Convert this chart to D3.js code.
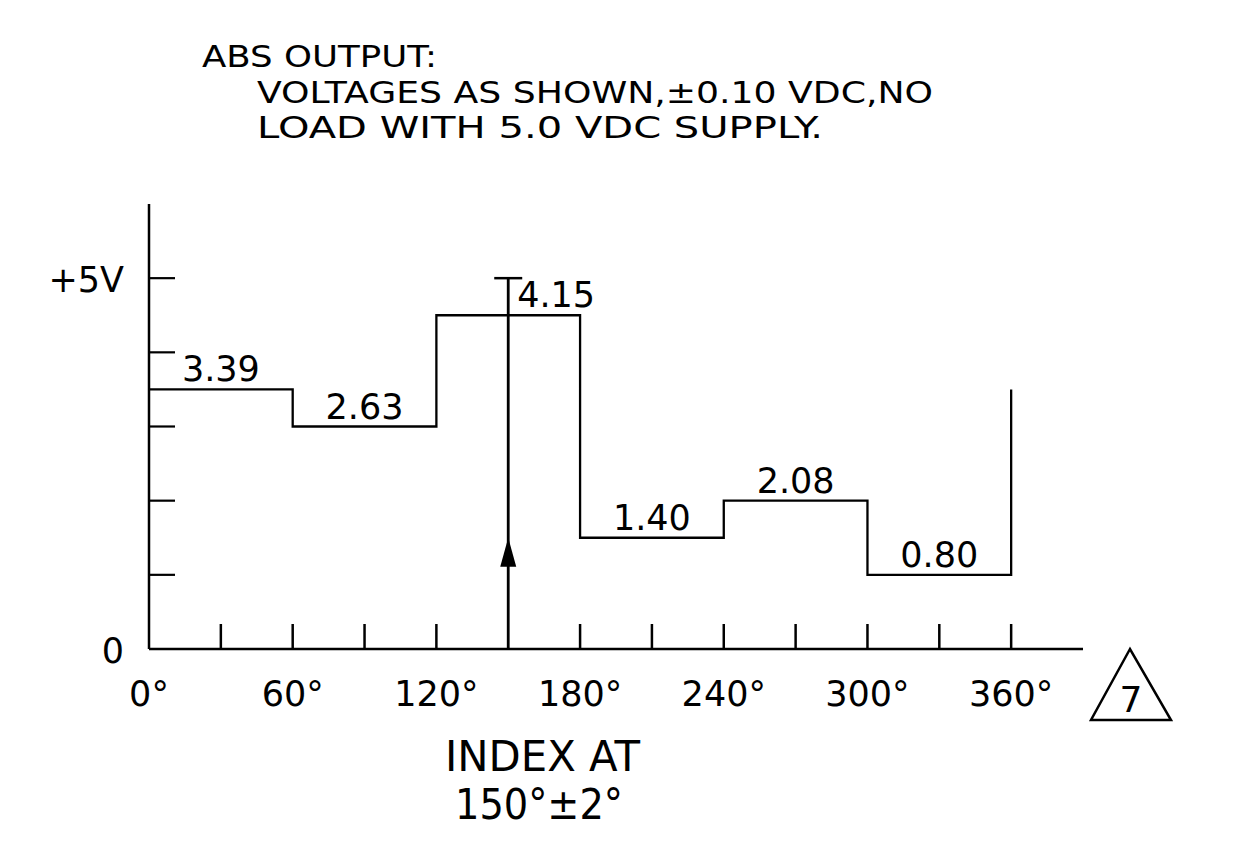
<!DOCTYPE html>
<html>
<head>
<meta charset="utf-8">
<script src="https://cdn.jsdelivr.net/npm/d3@7"></script>
<style>
  html, body { margin: 0; padding: 0; background: #fff; }
  svg { display: block; }
  text { font-family: "DejaVu Sans", sans-serif; fill: #000; }
</style>
</head>
<body>
<svg id="chart" width="1240" height="845"></svg>
<script>
// ---- data ----
const segmentStarts = [0, 60, 120, 180, 240, 300];   // degrees
const segmentEnd = 360;
const drawnLevels = [3.5, 3.0, 4.5, 1.5, 2.0, 1.0];  // level drawn in the figure (V)
const levelLabels = ["3.39", "2.63", "4.15", "1.40", "2.08", "0.80"];
const labelAngles = [30, 90, 170, 210, 270, 330];
const xTickLabels = ["0°", "60°", "120°", "180°", "240°", "300°", "360°"];
const xTickLabelValues = [0, 60, 120, 180, 240, 300, 360];
const xMinorTicks = [30, 60, 90, 120, 180, 210, 240, 270, 300, 330, 360];
const yTicks = [1, 2, 3, 4, 5];
const indexAngle = 150;
const titleLines = ["ABS OUTPUT:", "VOLTAGES AS SHOWN,±0.10 VDC,NO", "LOAD WITH 5.0 VDC SUPPLY."];
const indexLines = ["INDEX AT", "150°±2°"];

// ---- layout ----
const svg = d3.select("#chart");
const x = d3.scaleLinear().domain([0, 390]).range([149, 1083]);
const y = d3.scaleLinear().domain([0, 6]).range([649, 204]);

// title
const titleX = [202, 257, 257];
const titleY = [67, 102.5, 138];
const titleW = [235, 676, 566];
titleLines.forEach((t, i) => {
  svg.append("text").attr("x", titleX[i]).attr("y", titleY[i])
    .attr("font-size", 30).attr("textLength", titleW[i])
    .attr("lengthAdjust", "spacingAndGlyphs").text(t);
});

// axes
svg.append("line").attr("x1", x(0)).attr("x2", x(0)).attr("y1", y(0)).attr("y2", y(6))
  .attr("stroke", "#000").attr("stroke-width", 2.5);
svg.append("line").attr("x1", x(0)).attr("x2", x(390)).attr("y1", y(0)).attr("y2", y(0))
  .attr("stroke", "#000").attr("stroke-width", 2.5);

// y ticks
svg.selectAll(".ytick").data(yTicks).enter().append("line")
  .attr("x1", x(0)).attr("x2", x(0) + 26)
  .attr("y1", d => y(d)).attr("y2", d => y(d))
  .attr("stroke", "#000").attr("stroke-width", 2.2);

// x ticks (upward)
svg.selectAll(".xtick").data(xMinorTicks).enter().append("line")
  .attr("x1", d => x(d)).attr("x2", d => x(d))
  .attr("y1", y(0)).attr("y2", y(0) - 25)
  .attr("stroke", "#000").attr("stroke-width", 2.5);

// x tick labels
svg.selectAll(".xlab").data(xTickLabelValues).enter().append("text")
  .attr("x", d => x(d)).attr("y", 706)
  .attr("text-anchor", "middle").attr("font-size", 35)
  .text((d, i) => xTickLabels[i]);

// y labels
svg.append("text").attr("x", 124).attr("y", 663).attr("text-anchor", "end")
  .attr("font-size", 35).text("0");
svg.append("text").attr("x", 124).attr("y", 292).attr("text-anchor", "end")
  .attr("font-size", 35).text("+5V");

// step line
const pts = segmentStarts.map((s, i) => [s, drawnLevels[i]]);
pts.push([segmentEnd, drawnLevels[drawnLevels.length - 1]]);
pts.push([segmentEnd, drawnLevels[0]]);
const stepLine = d3.line().x(d => x(d[0])).y(d => y(d[1])).curve(d3.curveStepAfter);
svg.append("path").attr("d", stepLine(pts))
  .attr("fill", "none").attr("stroke", "#000").attr("stroke-width", 2.3);

// level labels
svg.selectAll(".lvl").data(levelLabels).enter().append("text")
  .attr("x", (d, i) => x(labelAngles[i]))
  .attr("y", (d, i) => y(drawnLevels[i]) - 8)
  .attr("text-anchor", "middle").attr("font-size", 35)
  .text(d => d);

// index arrow
const ax = x(indexAngle);
svg.append("line").attr("x1", ax).attr("x2", ax).attr("y1", y(0)).attr("y2", y(5))
  .attr("stroke", "#000").attr("stroke-width", 2.8);
svg.append("line").attr("x1", ax - 14).attr("x2", ax + 14).attr("y1", y(5)).attr("y2", y(5))
  .attr("stroke", "#000").attr("stroke-width", 2.5);
const tipY = y(1.5);
svg.append("path")
  .attr("d", `M${ax},${tipY} L${ax - 8},${tipY + 29} L${ax + 8},${tipY + 29} Z`)
  .attr("fill", "#000");

// index text
const idxY = [771, 819];
const idxW = [195, 168];
const idxX = [445, 455];
indexLines.forEach((t, i) => {
  svg.append("text").attr("x", idxX[i]).attr("y", idxY[i])
    .attr("font-size", 42).attr("textLength", idxW[i])
    .attr("lengthAdjust", "spacingAndGlyphs").text(t);
});

// revision triangle
svg.append("path").attr("d", "M1130,649 L1091,720 L1171,720 Z")
  .attr("fill", "none").attr("stroke", "#000").attr("stroke-width", 2.5)
  .attr("stroke-linejoin", "miter");
svg.append("text").attr("x", 1131).attr("y", 712).attr("text-anchor", "middle")
  .attr("font-size", 36).text("7");
</script>
</body>
</html>
